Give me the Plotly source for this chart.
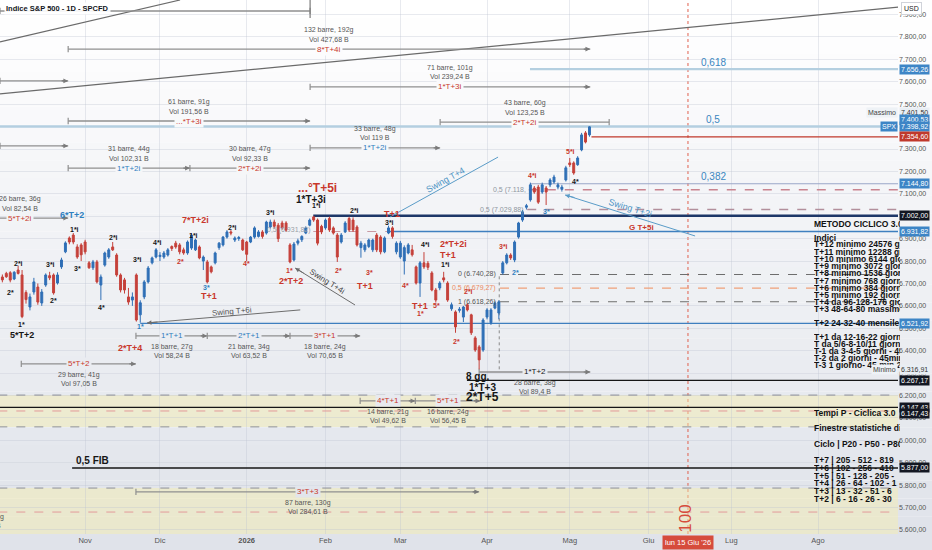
import pandas as pd
import plotly.graph_objects as go

# -------------------------
# Trading calendar: bar 0 = 3 Nov 2025 (x axis counts bars, not days)
# -------------------------
holidays = ["2025-11-27", "2025-12-25", "2026-01-01", "2026-01-19", "2026-02-16",
            "2026-04-03", "2026-05-25", "2026-06-19", "2026-07-03"]
cal = pd.bdate_range("2025-10-01", "2026-09-30")
cal = cal[~cal.isin(pd.to_datetime(holidays))]
ORIGIN = cal.get_loc(pd.Timestamp("2025-11-03"))


def bar(day):
    return cal.get_loc(pd.Timestamp(day)) - ORIGIN


# -------------------------
# Daily candles S&P 500 (SPCFD)
# -------------------------
first_day = "2025-10-02"
opens = [6720, 6729, 6745, 6748, 6720, 6760, 6738, 6660, 6595, 6662,
         6684, 6613, 6693, 6735, 6738, 6702, 6774, 6841, 6903, 6916,
         6863, 6872, 6885, 6792, 6770, 6796, 6693, 6782, 6818, 6863,
         6827, 6738, 6716, 6640, 6626, 6738, 6560, 6640, 6707, 6792,
         6818, 6820, 6818, 6827, 6865, 6880, 6872, 6850, 6836, 6858,
         6850, 6863, 6800, 6796, 6774, 6792, 6860, 6872, 6907, 6930,
         6894, 6900, 6894, 6885, 6885, 6907, 6910, 6930, 6925, 6952,
         6974, 6960, 6970, 6970, 6872, 6805, 6880, 6895, 6925, 6960,
         6997, 6983, 6955, 6948, 6990, 6948, 6916, 6885, 6930, 6990,
         6983, 6952, 6860, 6850, 6865, 6850, 6916, 6907, 6841, 6925,
         6948, 6841, 6818, 6800, 6836, 6850, 6774, 6702, 6792, 6790,
         6747, 6671, 6680, 6725, 6702, 6587, 6573, 6580, 6550, 6605,
         6560, 6457, 6417, 6403, 6550, 6525, 6590, 6568, 6747, 6792,
         6827, 6805, 6907, 6983, 7040, 7073, 7126, 7130, 7108, 7126,
         7140, 7153, 7130, 7120, 7162, 7238, 7238, 7230, 7296, 7372, 7363]
highs = [6740, 6740, 6752, 6755, 6755, 6780, 6760, 6670, 6655, 6725,
         6700, 6675, 6745, 6752, 6745, 6750, 6815, 6888, 6910, 6925,
         6875, 6880, 6895, 6800, 6805, 6805, 6740, 6842, 6858, 6885,
         6835, 6745, 6725, 6680, 6660, 6745, 6625, 6715, 6778, 6820,
         6858, 6840, 6845, 6858, 6870, 6890, 6880, 6860, 6892, 6925,
         6900, 6870, 6825, 6805, 6780, 6842, 6885, 6912, 6938, 6938,
         6910, 6912, 6900, 6890, 6912, 6955, 6938, 6938, 6980, 6985,
         6985, 6970, 6980, 6978, 6880, 6885, 6900, 6915, 6955, 6990,
         7002, 6990, 6962, 6990, 6998, 6955, 6925, 6925, 6978, 6998,
         6995, 6960, 6890, 6880, 6900, 6900, 6925, 6915, 6910, 6958,
         6955, 6888, 6890, 6870, 6880, 6872, 6780, 6800, 6840, 6800,
         6755, 6680, 6710, 6752, 6710, 6615, 6580, 6595, 6600, 6612,
         6565, 6465, 6425, 6545, 6590, 6590, 6620, 6625, 6800, 6835,
         6835, 6892, 6975, 7028, 7055, 7150, 7135, 7140, 7150, 7135,
         7170, 7185, 7150, 7140, 7225, 7260, 7245, 7268, 7372, 7380, 7401.50]
lows = [6700, 6705, 6725, 6705, 6715, 6740, 6545, 6610, 6580, 6650,
        6605, 6600, 6685, 6715, 6650, 6695, 6765, 6835, 6875, 6875,
        6810, 6800, 6830, 6765, 6760, 6700, 6626, 6775, 6810, 6845,
        6730, 6660, 6655, 6605, 6600, 6530, 6525, 6630, 6700, 6785,
        6812, 6800, 6810, 6820, 6845, 6855, 6830, 6828, 6828, 6850,
        6845, 6808, 6760, 6700, 6745, 6785, 6850, 6865, 6900, 6915,
        6885, 6890, 6845, 6800, 6880, 6900, 6905, 6900, 6918, 6945,
        6945, 6885, 6940, 6930, 6790, 6798, 6870, 6885, 6920, 6955,
        6975, 6870, 6920, 6940, 6930, 6918, 6796, 6878, 6925, 6930,
        6930, 6865, 6815, 6840, 6858, 6840, 6840, 6830, 6835, 6920,
        6900, 6830, 6810, 6740, 6830, 6820, 6695, 6640, 6765, 6760,
        6665, 6615, 6670, 6705, 6618, 6578, 6480, 6570, 6528, 6575,
        6470, 6395, 6316.91, 6395, 6540, 6515, 6585, 6540, 6740, 6785,
        6805, 6795, 6900, 6975, 7030, 7065, 7100, 7055, 7100, 7050,
        7130, 7145, 7120, 7110, 7155, 7220, 7185, 7225, 7290, 7325, 7355]
closes = [6715, 6716, 6730, 6715, 6750, 6745, 6552, 6628, 6640, 6707,
          6617, 6662, 6738, 6725, 6658, 6738, 6805, 6881, 6885, 6885,
          6818, 6828, 6841, 6770, 6796, 6707, 6729, 6836, 6850, 6850,
          6738, 6671, 6671, 6617, 6640, 6537, 6614, 6707, 6769, 6814,
          6850, 6826, 6836, 6850, 6856, 6863, 6841, 6836, 6885, 6916,
          6894, 6814, 6818, 6707, 6752, 6836, 6880, 6907, 6930, 6925,
          6903, 6905, 6850, 6830, 6907, 6948, 6930, 6910, 6974, 6974,
          6955, 6900, 6948, 6938, 6796, 6876, 6890, 6910, 6948, 6983,
          6983, 6880, 6930, 6983, 6939, 6925, 6818, 6916, 6970, 6939,
          6939, 6872, 6880, 6872, 6894, 6894, 6850, 6841, 6903, 6948,
          6910, 6880, 6880, 6860, 6872, 6828, 6702, 6792, 6774, 6772,
          6671, 6626, 6702, 6716, 6626, 6605, 6506, 6585, 6595, 6582,
          6480, 6403, 6359, 6537, 6582, 6582, 6613, 6618, 6792, 6827,
          6814, 6885, 6970, 7020, 7047, 7140, 7108, 7063, 7140, 7108,
          7162, 7175, 7140, 7130, 7216, 7230, 7193, 7260, 7363, 7331, 7398.92]

days = cal[cal >= pd.Timestamp(first_day)][:len(opens)]
bars = [bar(d) for d in days]

month_days = ["2025-11-03", "2025-12-01", "2026-01-02", "2026-02-02", "2026-03-02",
              "2026-04-01", "2026-05-01", "2026-06-01", "2026-07-01", "2026-08-03"]
month_names = ["Nov", "Dic", "<b>2026</b>", "Feb", "Mar", "Apr", "Mag", "Giu", "Lug", "Ago"]

# levels
fib_prices = [7656.26, 7400.53, 7144.80]
fib_names = ["0,618", "0,5", "0,382"]
cycle_top = 7002.00
cycle_mid = 6931.82
cycle_low = 6521.92
last_close_ref = 7354.60
swing_fib = [6740.28, 6679.27, 6618.26]
swing_fib_names = ["0 (6.740,28)", "0,5 (6.679,27)", "1 (6.618,26)"]
half_levels = [7118.20, 7029.88]
low_box = 6267.17
black_level = 6147.43
fib_half = 5877.00
band_top = [6202, 6131, 6060]
band_low = [5787, 5680, 5573]
minimo = 6316.91
massimo = 7401.50
# long trend lines (bar, price) -> (bar, price)
trend_lines = [((-21.6, 7778), (24.1, 7965)), ((-21.6, 7546), (206.9, 7934))]

RED, BLUE, BLK, GREY = "#c9372c", "#2f80c0", "#161616", "#555555"
X_END = 212
X_LEFT, X_RIGHT = -21.6, 206.3
Y_LO, Y_HI = 5582, 7965


def it(v):
    return f"{v:,.2f}".replace(",", "X").replace(".", ",").replace("X", ".")


def bg_rgb(t):
    top, bot = (255, 255, 255), (224, 227, 234)
    return tuple(round(a + (b - a) * t) for a, b in zip(top, bot))


def bg_at(price):
    t = (Y_HI - price) / (Y_HI - Y_LO)
    return "rgb(%d,%d,%d)" % bg_rgb(min(max(t, 0), 1))


shapes = []
ann = []

# background gradient
n = 30
for i in range(n):
    y1 = 1 - i / n
    y0 = 1 - (i + 1) / n if i < n - 1 else -0.04
    shapes.append(dict(type="rect", xref="paper", yref="paper", x0=0, x1=1.04, y0=y0, y1=y1,
                       fillcolor="rgb(%d,%d,%d)" % bg_rgb(i / (n - 1)), line_width=0, layer="below"))


def hline(y, x0, color, width=1.0, dash="solid", x1=X_END, layer="between"):
    shapes.append(dict(type="line", x0=x0, x1=x1, y0=y, y1=y, layer=layer,
                       line=dict(color=color, width=width, dash=dash)))


def seg(x0, y0, x1, y1, color, width=1.0, dash="solid"):
    shapes.append(dict(type="line", x0=x0, x1=x1, y0=y0, y1=y1, layer="between",
                       line=dict(color=color, width=width, dash=dash)))


def text(x, y, s, color=BLK, size=7, bold=True, **kw):
    ann.append(dict(x=x, y=y, text=f"<b>{s}</b>" if bold else s, showarrow=False,
                    font=dict(size=size, color=color), **kw))


# yellow bands
for band in (band_top, band_low):
    shapes.append(dict(type="rect", x0=X_LEFT - 5, x1=X_END, y0=band[2], y1=band[0], layer="below",
                       fillcolor="rgba(246,238,170,0.45)", line_width=0))
    hline(band[0], X_LEFT - 5, "#8d8f99", 1, "dash")
    hline(band[1], X_LEFT - 5, "#e39a9a", 1, "dash")
    hline(band[2], X_LEFT - 5, "#8d8f99", 1, "dash")

# trend lines
for (xa, ya), (xb, yb) in trend_lines:
    seg(xa, ya, xb, yb, "#6a6a6a", 1.2)

# fib levels
hline(fib_prices[0], 112.9, "#b4cfe0", 2.2)
hline(fib_prices[1], X_LEFT - 5, "#b4cfe0", 2.6)
hline(fib_prices[2], 112.9, "#9aa6c8", 1.1)
for p, s in zip(fib_prices, fib_names):
    text(159.4, p, s, "#3a86c0", 10, False, yshift=7)

# cycle levels
hline(cycle_top, 57.9, "#1d3768", 2.4)
hline(cycle_mid, 77.2, "#3f7fbf", 1.4)
seg(57.9, cycle_mid, 77.2, cycle_mid, "#c99aa4", 1.2, "dash")
text(57.9, cycle_mid, "0,5 (6.931,82)", "#9aa0a8", 7, False, xanchor="right", yshift=2)
hline(cycle_low, 14, "#3f7fbf", 1.4)
hline(last_close_ref, 128.5, "#c0392b", 1.2)
hline(half_levels[0], 112.6, "#c9848f", 1.4, "dash")
hline(half_levels[1], 112.2, "#b28f9c", 1.4, "dash")
text(112.4, half_levels[0], "0,5 (7.118,", "#8f96a0", 7, False, xanchor="right")
text(112.0, half_levels[1], "0,5 (7.029,88)", "#8f96a0", 7, False, xanchor="right")
hline(low_box, 96.9, BLK, 1.2)
hline(black_level, X_LEFT - 5, BLK, 1.2)
hline(fib_half, -3.3, BLK, 1.5)
text(-2.8, fib_half, "0,5 FIB", BLK, 10, xanchor="left", yshift=7)

# swing fib tool
for p, s, c in zip(swing_fib, swing_fib_names, ["#6d6d6d", "#f0a07a", "#6d6d6d"]):
    hline(p, 105.3, c, 1.1, "dash")
    text(104.8, p, s, "#555555" if c == "#6d6d6d" else "#ec8a60", 7, False, xanchor="right")
seg(105.1, minimo, 105.1, swing_fib[0], "#8a8a8a", 1, "dot")

# swing lines
seg(15.7, 6524, 54.6, 6582, "#6d6d6d", 1)
seg(53.3, 6769, 68.5, 6604, "#6d6d6d", 1)
seg(77.4, 6997, 104.8, 7264, "#5a9cc8", 1)
seg(121.8, 7095, 154.8, 6912, "#5a9cc8", 1)
for x, y, ax, ay, c in [(15.7, 6524, 12, -1, "#6d6d6d"), (53.3, 6769, 10, 6, "#6d6d6d"),
                        (121.8, 7095, 11, 3, "#5a9cc8")]:
    ann.append(dict(x=x, y=y, ax=ax, ay=ay, text="", showarrow=True, arrowhead=2,
                    arrowsize=0.9, arrowwidth=1, arrowcolor=c))
text(37.3, 6573, "Swing T+6i", "#555", 8, False, textangle=-5)
text(61.4, 6707, "Swing T+4i", "#444", 8, False, textangle=32)
text(91.4, 7162, "Swing T+4", "#4b93c4", 9, False, textangle=-29)
text(138.3, 7037, "Swing T+2i", "#4b93c4", 9, False, textangle=17)
text(141.1, 6952, "G T+5i", RED, 8)

# date range tools: start, end, price, label, colour, info1, info2, side, ends
ranges = [
    (X_LEFT, 57.1, 7916, "", BLK, "", "", "up", "tick"),
    (-4.3, 128.2, 7746, "8*T+4i", RED, "132 barre, 192g", "Vol 427,68 B", "up", "arrow"),
    (X_LEFT, -4.3, 7604, "", BLK, "", "", "up", "arrow"),
    (57.1, 128.2, 7577, "1*T+3i", RED, "71 barre, 101g", "Vol 239,24 B", "up", "arrow"),
    (-4.3, 57.1, 7425, "...*T+3i", RED, "61 barre, 91g", "Vol 191,56 B", "up", "arrow"),
    (90.1, 133.0, 7420, "2*T+2i", RED, "43 barre, 60g", "Vol 123,25 B", "up", "tick"),
    (X_LEFT, -4.3, 7314, "", BLK, "", "", "up", "arrow"),
    (-4.3, 26.6, 7215, "1*T+2i", BLUE, "31 barre, 44g", "Vol 102,31 B", "up", "arrow"),
    (26.6, 57.1, 7215, "2*T+2i", RED, "30 barre, 47g", "Vol 92,33 B", "up", "arrow"),
    (57.1, 90.1, 7305, "1*T+2i", BLUE, "33 barre, 48g", "Vol 119 B", "up", "arrow"),
    (-27.0, -4.3, 6992, "5*T+2i", RED, "26 barre, 36g", "Vol 82,54 B", "up", "arrow"),
    (-16.2, 12.9, 6341, "5*T+2", RED, "29 barre, 41g", "Vol 97,05 B", "down", "arrow"),
    (12.9, 31.0, 6466, "1*T+1", BLUE, "18 barre, 27g", "Vol 58,24 B", "down", "arrow"),
    (31.0, 52.0, 6466, "2*T+1", BLUE, "21 barre, 34g", "Vol 63,52 B", "down", "arrow"),
    (52.0, 69.8, 6466, "3*T+1", RED, "18 barre, 24g", "Vol 70,65 B", "down", "arrow"),
    (69.8, 83.8, 6176, "4*T+1", RED, "14 barre, 21g", "Vol 49,62 B", "down", "arrow"),
    (83.8, 100.3, 6176, "5*T+1", RED, "16 barre, 24g", "Vol 56,45 B", "down", "arrow"),
    (100.0, 128.2, 6305, "1*T+2", BLK, "28 barre, 38g", "Vol 89,4 B", "down", "arrow"),
    (12.9, 100.0, 5770, "3*T+3", RED, "87 barre, 130g", "Vol 284,61 B", "down", "arrow"),
]
for x0, x1, p, lab, col, i1, i2, side, end in ranges:
    seg(x0, p, x1, p, "#8f8f8f", 1.3)
    seg(x0, p - 14, x0, p + 14, "#8f8f8f", 1.2)
    if end == "arrow":
        ann.append(dict(x=x1, y=p, ax=-8, ay=0, text="", showarrow=True, arrowhead=2,
                        arrowsize=0.8, arrowwidth=1.2, arrowcolor="#7a7a7a"))
    else:
        seg(x1, p - 14, x1, p + 14, "#8f8f8f", 1.2)
    xm = (x0 + x1) / 2
    if x0 < X_LEFT - 1:
        xm = -16.5
    if lab:
        text(xm, p, lab, col, 8, False, bgcolor=bg_at(p), borderpad=1)
        off = [19, 10] if side == "up" else [-11, -20]
        text(xm, p, i1, GREY, 7, False, yshift=off[0])
        text(xm, p, i2, GREY, 7, False, yshift=off[1])
# tall tick at the end of the top range
seg(57.1, 7885, 57.1, Y_HI, "#7a7a7a", 1.2)
text(-20.0, 5658, "3g", GREY, 7, False, xanchor="right")
text(-20.8, 5618, "B", GREY, 7, False, xanchor="right")

# cycle marks (small)
marks = [
    (-16.8, 6791, "2*i", BLK), (-19.0, 6658, "2*", BLK), (-8.9, 6783, "3*i", BLK),
    (-8.1, 6626, "2*", BLK), (-16.2, 6515, "1*", BLK), (-2.8, 6939, "1*i", BLK),
    (-2.0, 6769, "3*", BLK), (7.1, 6903, "2*i", BLK), (4.1, 6595, "4*", BLK),
    (13.2, 6805, "3*i", BLK), (18.3, 6885, "4*i", BLK), (14.0, 6506, "1*", BLUE),
    (27.4, 6912, "1*i", BLK), (24.1, 6796, "2*", RED), (30.7, 6684, "3*", BLUE),
    (37.3, 6952, "2*i", BLK), (40.9, 6791, "4*", RED), (47.0, 7015, "3*i", BLK),
    (58.6, 7046, "1*i", BLK), (51.8, 6760, "1*", RED), (68.3, 7024, "2*i", BLK),
    (64.2, 6760, "2*", RED), (77.2, 6974, "3*i", BLK), (72.1, 6747, "3*", RED),
    (81.2, 6689, "4*", RED), (86.3, 6872, "4*i", BLK), (91.4, 6783, "1*i", BLK),
    (85.0, 6568, "1*", RED), (89.1, 6600, "5*", RED), (94.2, 6439, "2*", RED),
    (97.2, 6662, "2*i", RED), (106.1, 6867, "3*i", RED), (109.1, 6751, "2*", BLUE),
    (117.0, 7019, "3*", BLUE), (113.5, 7184, "4*i", RED), (123.1, 7287, "5*i", RED),
    (124.4, 7153, "4*", BLK),
]
for x, y, s, c in marks:
    text(x, y, s, c, 7)

big_marks = [
    (-16.0, 6470, "5*T+2", BLK, 9), (-3.3, 7006, "6*T+2", BLUE, 9), (11.4, 6413, "2*T+4", RED, 9),
    (27.9, 6983, "7*T+2i", RED, 9), (31.5, 6644, "T+1", RED, 9), (52.3, 6711, "2*T+2", RED, 9),
    (77.9, 7010, "T+1", RED, 9), (71.1, 6689, "T+1", RED, 9), (93.4, 6876, "2*T+2i", RED, 9),
    (92.1, 6827, "T+1", RED, 9), (85.0, 6600, "T+1", RED, 9), (57.4, 7073, "1*T+3i", BLK, 10),
    (59.1, 7126, "...°T+5i", RED, 12), (99.7, 6287, "8 gg.", BLK, 10),
    (100.8, 6234, "1*T+3", BLK, 10), (100.8, 6194, "2*T+5", BLK, 12),
]
for x, y, s, c, size in big_marks:
    text(x, y, s, c, size)

# notes on the right (clipped at the price scale like the original)
notes = [
    (6966, "METODO CICLICO 3.0"), (6903, "Indici"), (6876, "T+12 minimo 24576 giorni"),
    (6841, "T+11 minimo 12288 giorni"), (6809, "T+10 minimo 6144 giorni"),
    (6778, "T+9 minimo 3072 giorni"), (6747, "T+8 minimo 1536 giorni"),
    (6711, "T+7 minimo 768 giorni 1"), (6680, "T+6 minimo 384 giorni 5"),
    (6649, "T+5 minimo 192 giorni 2"), (6617, "T+4 da 96-128-176 giorni"),
    (6586, "T+3 48-64-80 massimo"), (6524, "T+2 24-32-40 mensile"),
    (6461, "T+1 da 12-16-22 giorni"), (6430, "T da 5/6-8-10/11 giorni"),
    (6399, "T-1 da 3-4-5 giorni - 45"), (6368, "T-2 da 2 giorni - 45min"),
    (6336, "T-3 1 giorno- 45 min 22"),
    (6122, "Tempi P - Ciclica 3.0"), (6055, "Finestre statistiche di"),
    (5984, "Ciclo | P20 - P50 - P80"), (5912, "T+7 | 205 - 512 - 819"),
    (5877, "T+6 | 102 - 256 - 410"), (5841, "T+5 | 51 - 128 - 205 -"),
    (5810, "T+4 | 26 - 64 - 102 - 1"), (5774, "T+3 | 13 - 32 - 51 - 6"),
    (5738, "T+2 | 6 - 16 - 26 - 30"),
]
for y, s in notes:
    ann.append(dict(x=184.5, y=y, text=f"<b>{s}</b>", showarrow=False, xanchor="left",
                    align="left", width=86, font=dict(size=8.5, color="#111111")))

# crosshair-like marker on 15 Jun 2026
x_jun = bar("2026-06-15")
shapes.append(dict(type="line", x0=x_jun, x1=x_jun, yref="paper", y0=0, y1=1, layer="between",
                   line=dict(color="#e0604f", width=1, dash="dot")))
text(x_jun - 0.5, 5650, "100", "#d64c3c", 17, False, textangle=-90)
ann.append(dict(x=x_jun, y=0, yref="paper", yanchor="top", yshift=-1, showarrow=False,
                text="lun 15 Giu '26", bgcolor="#d64c3c", borderpad=2,
                font=dict(size=7.5, color="white")))

# price scale tags
tags = [(fib_prices[0], "#3d85c6", 0), (massimo, "#e9eef4", 14), (fib_prices[1], "#3d85c6", 7),
        (7398.92, "#3d85c6", 0), (last_close_ref, "#c0392b", 0), (fib_prices[2], "#3d85c6", 0),
        (cycle_top, "#131722", 0), (cycle_mid, "#3d85c6", 0), (cycle_low, "#3d85c6", 0),
        (minimo, "#e9eef4", 0), (low_box, "#131722", 0), (black_level, "#131722", 0),
        (black_level, "#131722", -6), (fib_half, "#131722", 0)]
for p, c, dy in tags:
    fc = "#333" if c == "#e9eef4" else "white"
    ann.append(dict(x=1, xref="paper", y=p, yshift=dy, xanchor="left", xshift=1, showarrow=False,
                    text=it(p), bgcolor=c, borderpad=1, font=dict(size=7, color=fc)))
for p, s, c, fc, dy in [(massimo, "Massimo", "#eef2f6", "#444", 14), (7398.92, "SPX", "#3d85c6", "white", 0),
                         (minimo, "Minimo", "#eef2f6", "#444", 0)]:
    ann.append(dict(x=1, xref="paper", y=p, yshift=dy, xanchor="right", showarrow=False,
                    text=s, bgcolor=c, borderpad=1, font=dict(size=7, color=fc)))
ann.append(dict(x=1, xref="paper", y=1, yref="paper", xanchor="left", yanchor="top", yshift=-2, xshift=3,
                showarrow=False, text="USD", bgcolor="white", bordercolor="#d0d3da",
                borderpad=2, font=dict(size=7, color="#222")))
ann.append(dict(x=0.004, xref="paper", y=1, yref="paper", xanchor="left", yanchor="top", yshift=-2,
                showarrow=False, text="<b>Indice S&P 500 - 1D - SPCFD</b>", bgcolor="rgba(255,255,255,0.9)",
                font=dict(size=7.5, color="#131722")))

# -------------------------
# Figure
# -------------------------
fig = go.Figure()
fig.add_trace(go.Candlestick(
    x=bars, open=opens, high=highs, low=lows, close=closes,
    increasing=dict(line=dict(color="#2f6fb6", width=1), fillcolor="#2f6fb6"),
    decreasing=dict(line=dict(color="#c5403a", width=1), fillcolor="#c5403a"),
    whiskerwidth=0, showlegend=False, hoverinfo="skip"))

fig.update_layout(
    width=932, height=550,
    margin=dict(l=0, r=34, t=0, b=16, autoexpand=False),
    paper_bgcolor="#ffffff", plot_bgcolor="rgba(0,0,0,0)",
    separators=",.", showlegend=False, hovermode=False,
    font=dict(family="Liberation Sans, Arial, sans-serif", size=8, color="#1e1e1e"),
    xaxis=dict(range=[X_LEFT, X_RIGHT], tickvals=[bar(d) for d in month_days], ticktext=month_names,
               showgrid=True, gridcolor="rgba(190,196,208,0.35)", zeroline=False, ticks="",
               automargin=False, rangeslider=dict(visible=False), tickfont=dict(size=7.5, color="#555")),
    yaxis=dict(range=[Y_LO, Y_HI], side="right", dtick=100, tick0=5600, tickformat=",.2f",
               showgrid=True, gridcolor="rgba(190,196,208,0.35)", zeroline=False, ticks="",
               automargin=False, tickfont=dict(size=7, color="#555")),
    shapes=shapes, annotations=ann,
)

# page without the default body margin, so the chart fills the 932x550 window
fig.write_html("out.html", config={"displayModeBar": False},
               post_script="document.body.style.margin='0';")
